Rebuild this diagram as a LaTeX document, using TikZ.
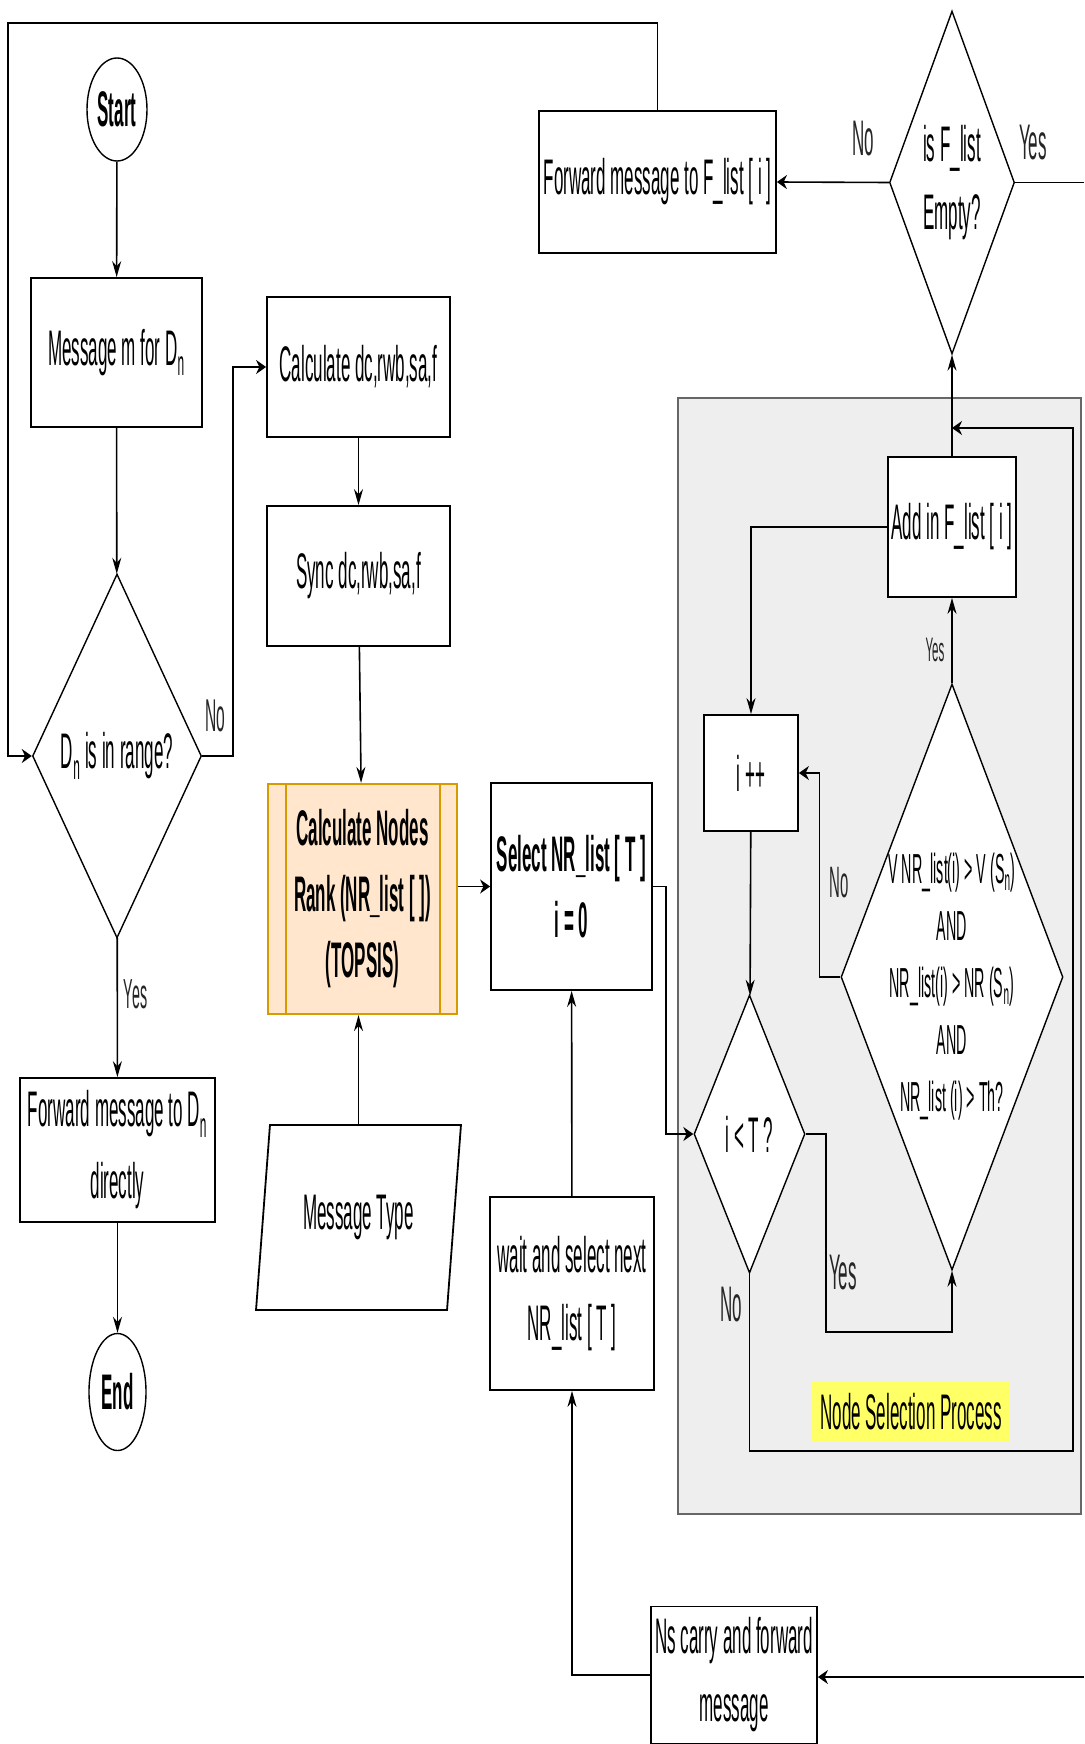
\documentclass[tikz,border=0pt]{standalone}
\usepackage{fontspec}
\setmainfont{Liberation Sans}[FakeStretch=0.34]
\usetikzlibrary{shapes.geometric,arrows.meta}
\definecolor{rankfill}{HTML}{FFE6CC}
\definecolor{rankline}{HTML}{D79B00}
\definecolor{tagfill}{HTML}{FFFF66}
\definecolor{panelfill}{HTML}{EEEEEE}
\begin{document}
\begin{tikzpicture}[x=1pt,y=-1pt,
	txt/.style={font=\fontsize{50}{68}\selectfont,align=center,inner sep=0pt},
	box/.style={txt,draw,line width=1.8pt,fill=white,rectangle},
	boldbox/.style={box,font=\fontsize{50}{66}\selectfont\bfseries},
	decision/.style={txt,draw,line width=1.4pt,fill=white,diamond},
	terminal/.style={txt,draw,line width=1.4pt,fill=white,ellipse,font=\fontsize{50}{66}\selectfont\bfseries},
	answer/.style={txt,text=black!85},
	vflow/.style={line width=1.6pt,-{Stealth[length=16pt,width=9pt]}},
	hflow/.style={line width=1.6pt,-{Stealth[length=10pt,width=14pt]}},
	link/.style={line width=1.6pt}]
	\useasboundingbox (0,0) rectangle (1084,1744);
	\filldraw[fill=panelfill, draw=black!60, line width=1.8pt] (678,398) rectangle (1081,1514);
	
	\node[terminal, minimum width=60pt, minimum height=103pt] (start) at (117,109.5){Start};
	\node[box, minimum width=171pt, minimum height=149pt] (msg) at (116.5,352.5){Message m for D\textsubscript{n}};
	\node[decision, aspect=0.464, minimum width=169pt, minimum height=364pt] (range) at (117,756){D\textsubscript{n} is in range?};
	\node[box, minimum width=195pt, minimum height=144pt, font=\fontsize{50}{72}\selectfont] (fwdD) at (117.5,1150){Forward message to D\textsubscript{n}\\directly};
	\node[terminal, minimum width=57pt, minimum height=117pt] (end) at (117.5,1392){End};
	
	\node[box, minimum width=183pt, minimum height=140pt] (calc) at (358.5,367){Calculate dc,rwb,sa,f};
	\node[box, minimum width=183pt, minimum height=140pt] (sync) at (358.5,576){Sync dc,rwb,sa,f};
	\node[boldbox, draw=rankline, fill=rankfill, line width=2.2pt, minimum width=189pt, minimum height=230pt] (rank) at (362.5,899){Calculate Nodes\\Rank (NR\_list [ ])\\(TOPSIS)};
	\draw[rankline, line width=1.6pt] ([xshift=19pt]rank.north west) -- ([xshift=19pt]rank.south west);
	\draw[rankline, line width=1.6pt] ([xshift=-18pt]rank.north east) -- ([xshift=-18pt]rank.south east);
	\node[txt, draw, line width=1.8pt, fill=white, trapezium, trapezium left angle=79, trapezium right angle=101, trapezium stretches=true, minimum width=205pt, minimum height=185pt] (msgtype) at (358.5,1217.5){Message Type};
	
	\node[boldbox, minimum width=161pt, minimum height=207pt] (select) at (571.5,886.5){Select NR\_list [ T ]\\i = 0};
	\node[box, minimum width=164pt, minimum height=193pt] (wait) at (572,1293.5){wait and select next\\NR\_list [ T ]};
	\node[box, minimum width=166pt, minimum height=137pt] (carry) at (734,1675){Ns carry and forward\\message};
	
	\node[box, minimum width=237pt, minimum height=142pt] (fwdF) at (657.5,182){Forward message to F\_list [ i ]};
	\node[decision, aspect=0.364, minimum width=125pt, minimum height=343pt] (empty) at (952,182.5){is F\_list\\Empty?};
	\node[box, minimum width=128pt, minimum height=140pt] (add) at (952,527){Add in F\_list [ i ]};
	\node[box, minimum width=94pt, minimum height=116pt] (inc) at (751,773){i ++};
	\node[decision, aspect=0.4, minimum width=111pt, minimum height=278pt] (lt) at (749.5,1134){i < T ?};
	\node[decision, aspect=0.379, inner sep=-10pt, minimum width=222pt, minimum height=586pt, font=\fontsize{42}{57}\selectfont] (cond) at (952,977){\rule{0pt}{50pt}V NR\_list(i) > V (S\textsubscript{n})\\AND\\NR\_list(i) > NR (S\textsubscript{n})\\AND\\NR\_list (i) > Th?};
	\node[txt, fill=tagfill, minimum width=198pt, minimum height=60pt] (tag) at (911,1412){Node Selection Process};
	
	\coordinate (topLeft) at (8,23);
	\coordinate (emptyOut) at (1084,182.5);
	\coordinate (carryIn) at (1084,1677);
	\coordinate (loopA) at (1073,1451);
	\coordinate (loopB) at (1073,428);
	
	\draw[vflow] (start) -- (msg);
	\draw[vflow] (msg) -- (range);
	\draw[vflow] (range) -- (fwdD);
	\draw[vflow] (fwdD) -- (end);
	\draw[hflow] (range.east) -- ++(31,0) |- (calc.west);
	\draw[vflow] (calc) -- (sync);
	\draw[vflow] (sync) -- (rank);
	\draw[hflow] (rank.east |- select.west) -- (select.west);
	\draw[vflow] (msgtype.north) -- (msgtype.north |- rank.south);
	\draw[vflow] (wait) -- (select);
	\draw[vflow] (carry.west) -| (wait.south);
	\draw[hflow] (carryIn) -- (carryIn -| carry.east);
	\draw[link] (empty.east) -- (emptyOut);
	\draw[hflow] (empty.west) -- (fwdF.east);
	\draw[hflow] (fwdF.north) |- (topLeft) |- (range.west);
	\draw[vflow] (add) -- (empty);
	\draw[vflow] (cond) -- (add);
	\draw[vflow] (add.west) -| (inc.north);
	\draw[hflow] (cond.west) -- ++(-21,0) |- (inc.east);
	\draw[vflow] (inc) -- (lt);
	\draw[hflow] (select.east) -- ++(13,0) |- (lt.west);
	\draw[vflow] (lt.east) -- ++(20,0) -- ++(0,198) -| (cond.south);
	\draw[hflow] (lt.south) |- (loopA) -- (loopB) -- (loopB -| add.north);
	
	\node[answer, font=\fontsize{42}{57}\selectfont] (yesRange) at (135.5,994){Yes};
	\node[answer, font=\fontsize{46}{60}\selectfont] (noRange) at (215,716){No};
	\node[answer] (noEmpty) at (863,139){No};
	\node[answer] (yesEmpty) at (1033,143){Yes};
	\node[answer, font=\fontsize{34}{46}\selectfont] (yesCond) at (935,650){Yes};
	\node[answer, font=\fontsize{44}{58}\selectfont] (noCond) at (839,883){No};
	\node[answer] (yesLt) at (843,1273){Yes};
	\node[answer] (noLt) at (731,1305){No};
\end{tikzpicture}
\end{document}
